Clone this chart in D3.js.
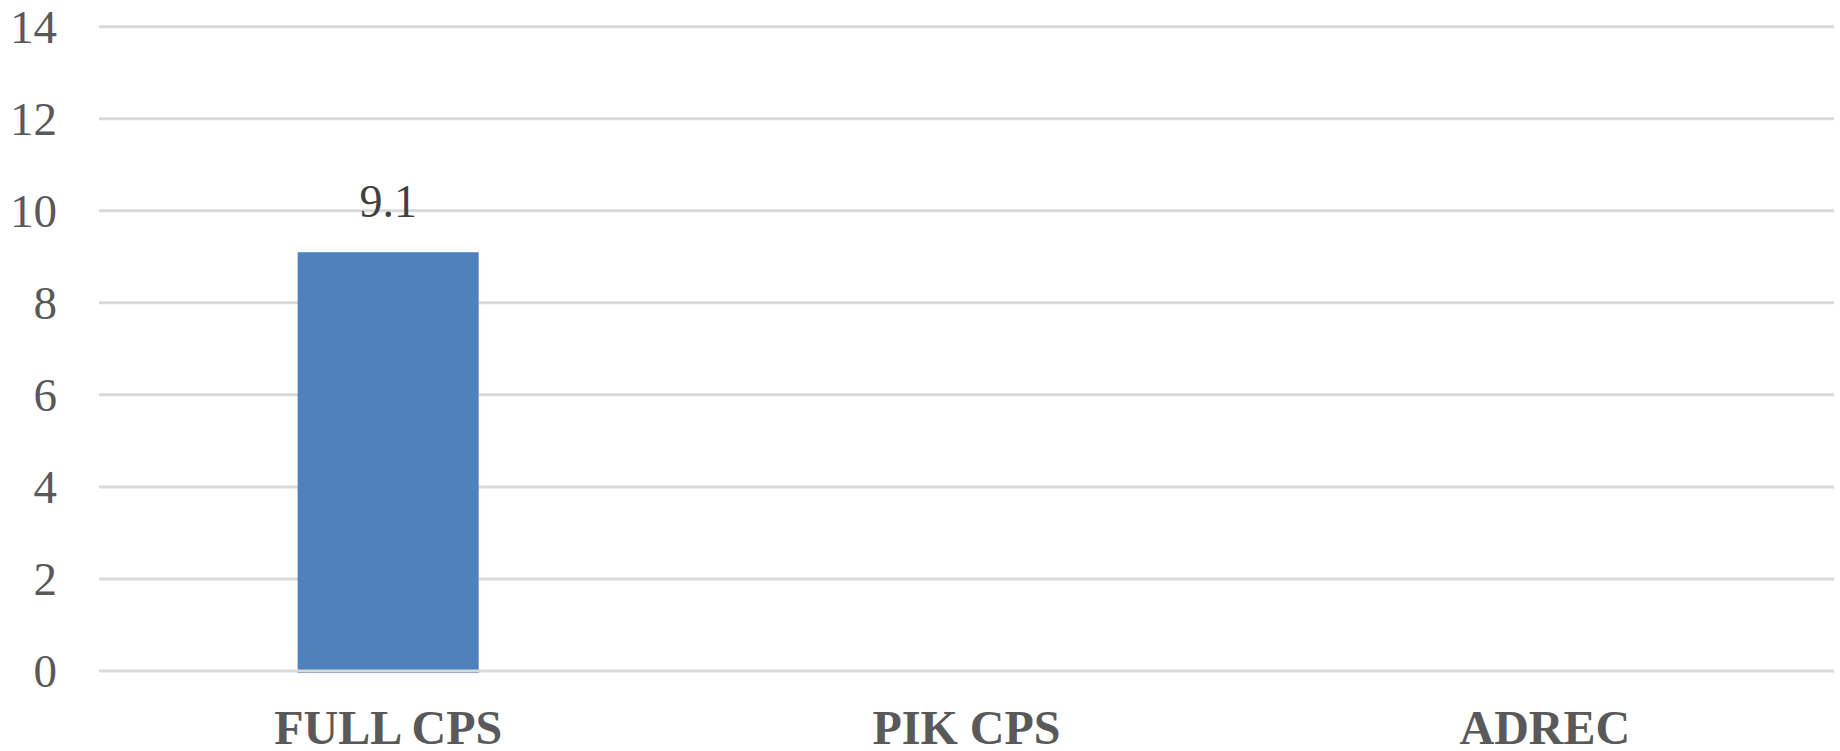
<!DOCTYPE html>
<html>
<head>
<meta charset="utf-8">
<script src="https://cdn.jsdelivr.net/npm/d3@7"></script>
<style>
  body { margin: 0; background: #fff; }
  svg text { font-family: "Liberation Serif", "Times New Roman", serif; }
</style>
</head>
<body>
<div id="chart"></div>
<script>
const categories = ["FULL CPS", "PIK CPS", "ADREC"];
const values = [9.1, null, null];
const yTicks = [0, 2, 4, 6, 8, 10, 12, 14];

const width = 1840, height = 751;
const plot = { left: 99, right: 1834, top: 26.7, bottom: 671 };

const svg = d3.select("#chart")
    .append("svg")
    .attr("width", width)
    .attr("height", height);

const x = d3.scaleBand()
    .domain(categories)
    .range([plot.left, plot.right])
    .padding(0);

const y = d3.scaleLinear()
    .domain([0, 14])
    .range([plot.bottom, plot.top]);

const barW = x.bandwidth() * 0.313;

// gridlines (except zero, drawn after the bars)
svg.append("g")
    .selectAll("line")
    .data(yTicks.filter(d => d !== 0))
    .enter()
    .append("line")
    .attr("x1", plot.left)
    .attr("x2", plot.right)
    .attr("y1", d => y(d))
    .attr("y2", d => y(d))
    .attr("stroke", "#d9d9d9")
    .attr("stroke-width", 3);

const data = categories.map((c, i) => ({ cat: c, value: values[i] }))
    .filter(d => d.value != null);

svg.selectAll(".bar")
    .data(data)
    .enter()
    .append("rect")
    .attr("class", "bar")
    .attr("x", d => x(d.cat) + x.bandwidth() / 2 - barW / 2)
    .attr("width", barW)
    .attr("y", d => y(d.value))
    .attr("height", d => y(0) - y(d.value) + 2)
    .attr("fill", "#4f81bd");

// zero line on top of the bar
svg.append("line")
    .attr("x1", plot.left)
    .attr("x2", plot.right)
    .attr("y1", y(0))
    .attr("y2", y(0))
    .attr("stroke", "#d9d9d9")
    .attr("stroke-width", 3);

// value labels
svg.selectAll(".value-label")
    .data(data)
    .enter()
    .append("text")
    .attr("class", "value-label")
    .attr("x", d => x(d.cat) + x.bandwidth() / 2)
    .attr("y", d => y(d.value) - 35)
    .attr("text-anchor", "middle")
    .attr("font-size", 46)
    .attr("fill", "#404040")
    .text(d => d3.format(".1f")(d.value));

// y axis labels
svg.append("g")
    .selectAll("text")
    .data(yTicks)
    .enter()
    .append("text")
    .attr("x", 57)
    .attr("y", d => y(d))
    .attr("dy", "0.35em")
    .attr("text-anchor", "end")
    .attr("font-size", 47)
    .attr("fill", "#595959")
    .text(d => d);

// category labels
svg.append("g")
    .selectAll("text")
    .data(categories)
    .enter()
    .append("text")
    .attr("x", d => x(d) + x.bandwidth() / 2)
    .attr("y", 744)
    .attr("text-anchor", "middle")
    .attr("font-size", 48)
    .attr("font-weight", "bold")
    .attr("fill", "#595959")
    .text(d => d);
</script>
</body>
</html>
